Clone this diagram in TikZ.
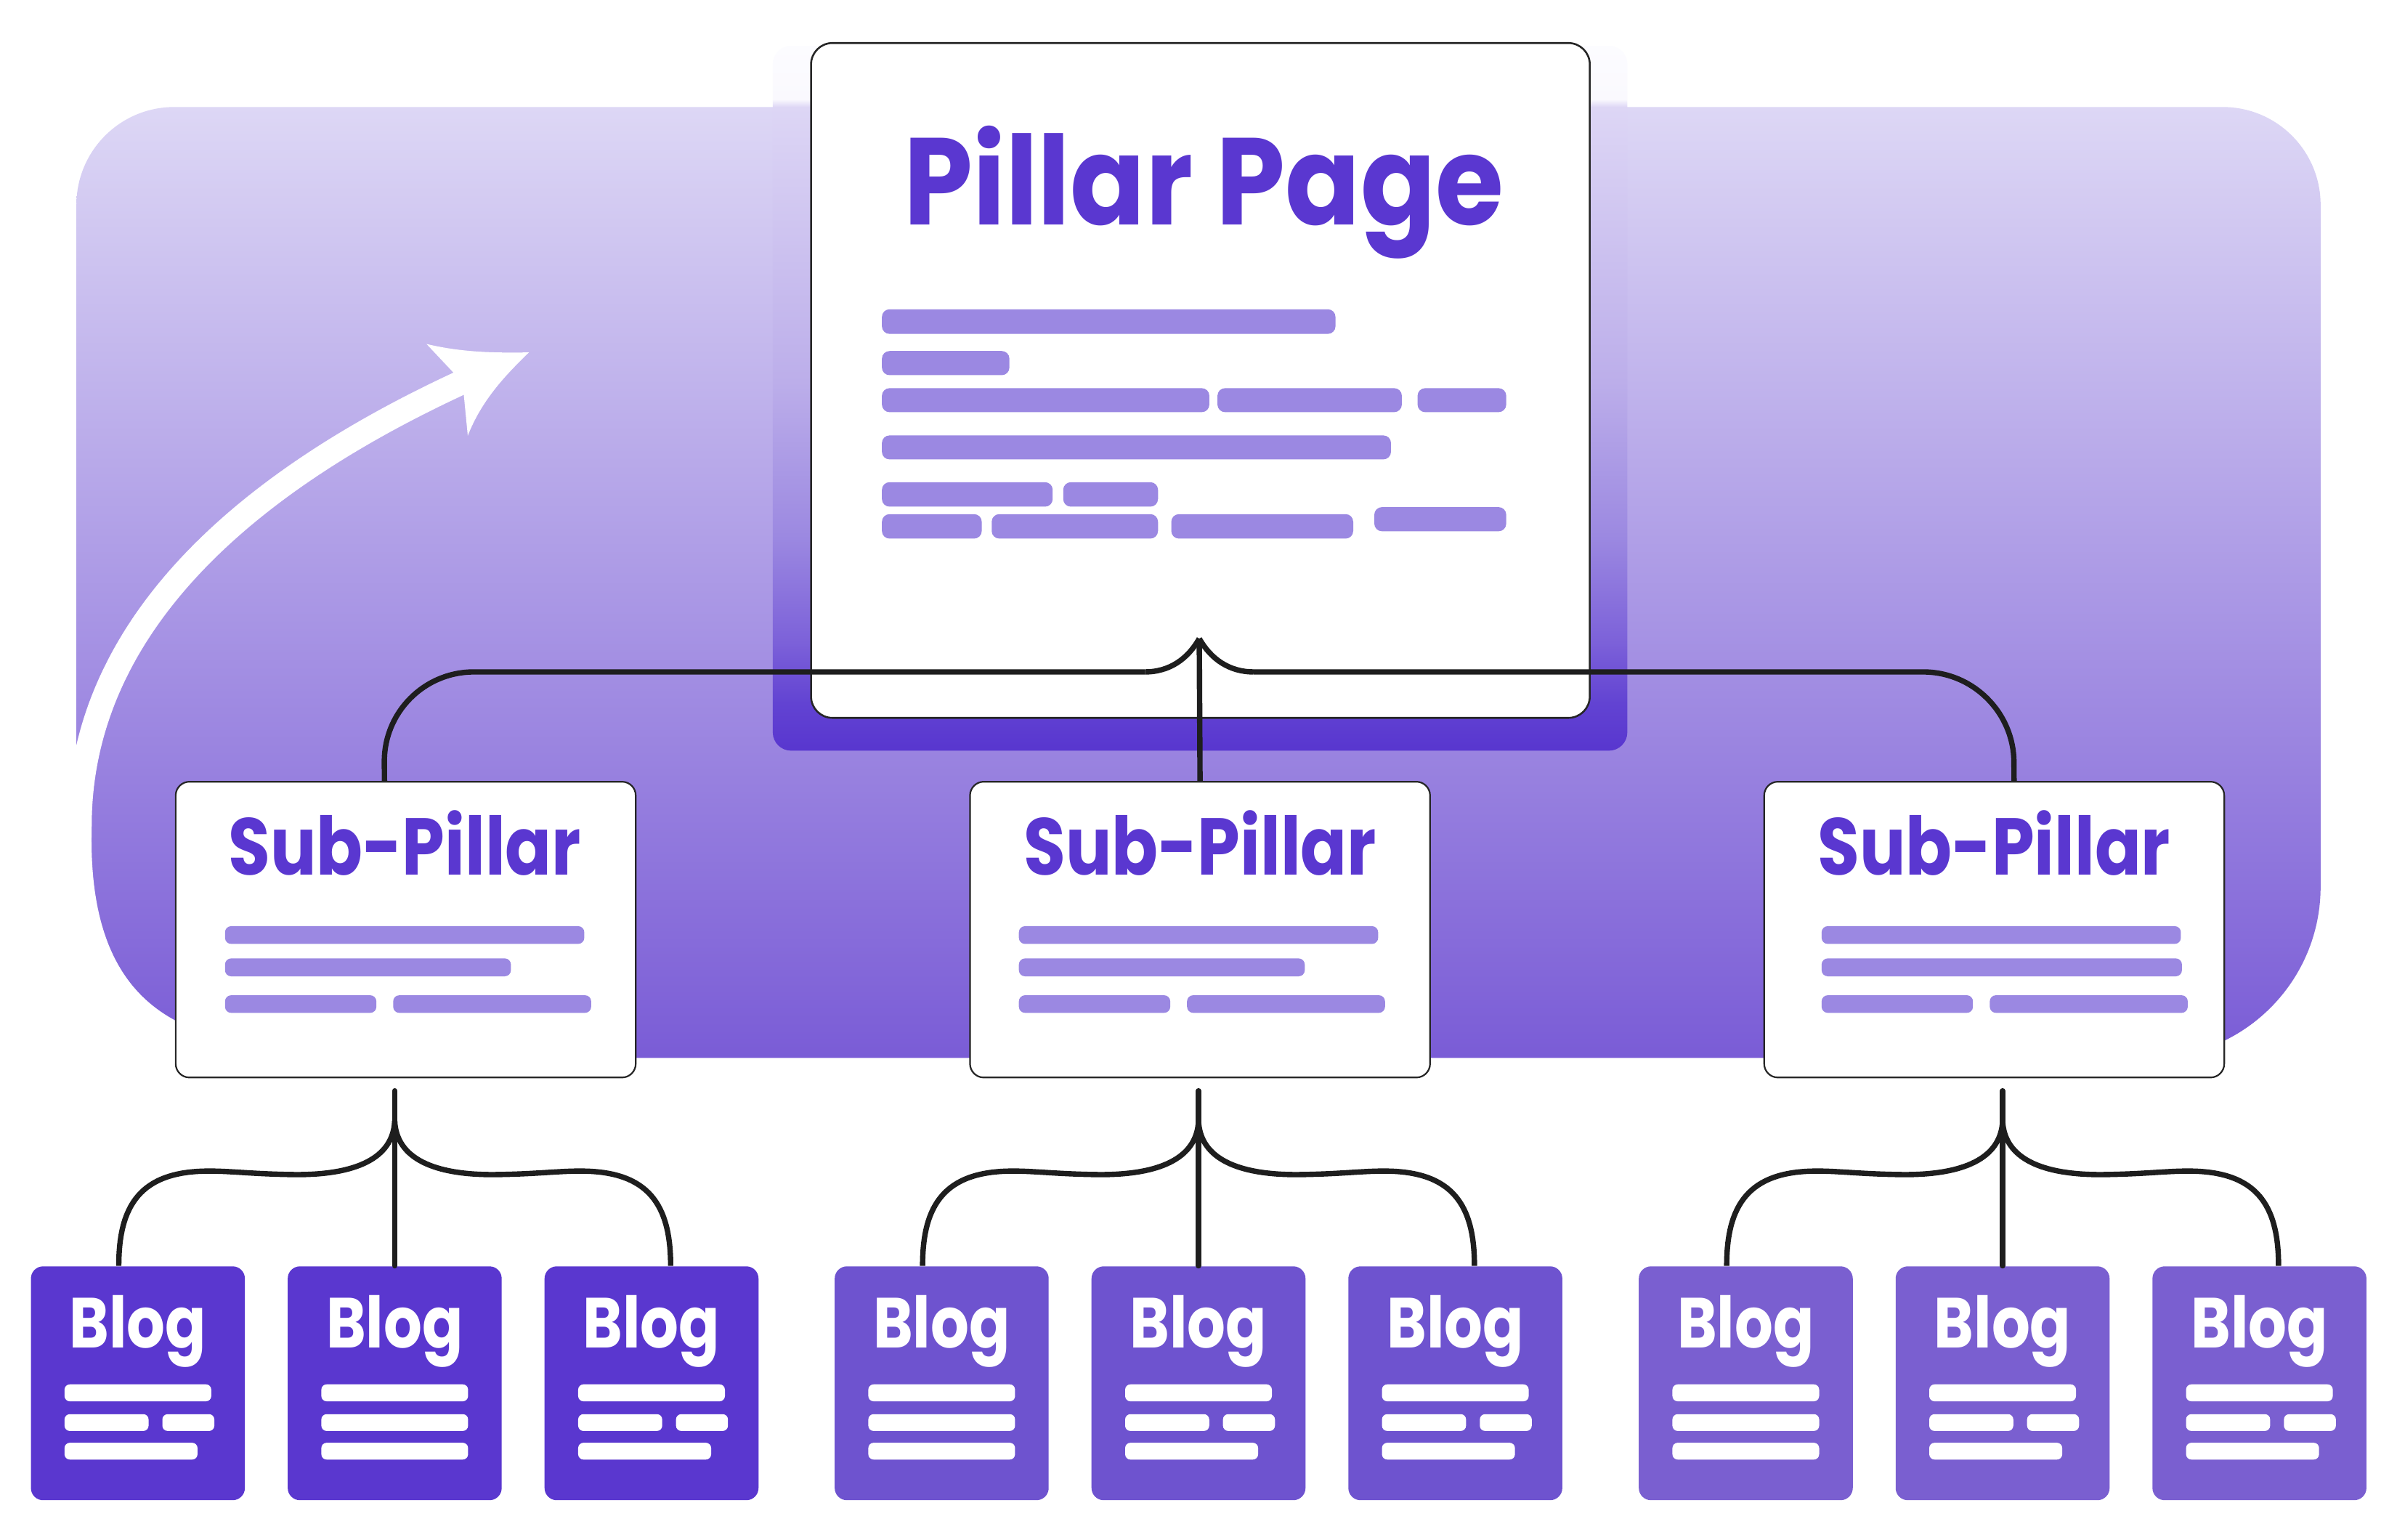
\documentclass[tikz,border=0pt]{standalone}
\usepackage{fontspec}
\setmainfont{Poppins}
\usepackage{graphicx}
\usetikzlibrary{calc}
\definecolor{bgtop}{HTML}{DDD7F5}
\definecolor{bgbot}{HTML}{7A5CD6}
\definecolor{barc}{HTML}{9B88E2}
\definecolor{ink}{HTML}{5A37D0}
\definecolor{connc}{HTML}{1E1E1E}
\definecolor{blogA}{HTML}{5A37CF}
\definecolor{blogB}{HTML}{6E53CF}
\definecolor{blogC}{HTML}{7A5FD0}
\definecolor{sh0}{HTML}{5836CF}
\definecolor{sh1}{HTML}{6243D2}
\definecolor{sh2}{HTML}{7C61D9}
\definecolor{sh3}{HTML}{9C89E1}
\definecolor{sh4}{HTML}{BCAEEA}
\definecolor{sh5}{HTML}{DDD6F5}
\definecolor{sh6}{HTML}{FAF9FE}
\definecolor{sh7}{HTML}{FCFCFF}
\pgfdeclareverticalshading{shadowsh}{100bp}{color(0bp)=(sh0); color(25bp)=(sh0); color(28.36bp)=(sh1); color(32.7bp)=(sh2); color(40.29bp)=(sh3); color(51.14bp)=(sh4); color(70.66bp)=(sh5); color(71.2bp)=(sh6); color(75bp)=(sh7); color(100bp)=(sh7)}

\tikzset{
  conn/.style={draw=connc, line width=2pt},
  pillarsty/.style={fill=white, draw=black!85, line width=0.7pt, inner sep=0pt,
    minimum width=10.19cm, minimum height=8.83cm, rounded corners=0.28cm},
  substy/.style={fill=white, draw=black!85, line width=0.6pt, inner sep=0pt,
    minimum width=6.02cm, minimum height=3.87cm, rounded corners=0.18cm},
  blogsty/.style={inner sep=0pt, minimum width=2.8cm, minimum height=3.06cm, rounded corners=0.16cm},
  titletxt/.style={anchor=base, inner sep=0pt, text=ink, font=\fontsize{46}{46}\selectfont\bfseries},
  subtxt/.style={anchor=base, inner sep=0pt, text=ink, font=\fontsize{30}{30}\selectfont\bfseries},
  blogtxt/.style={anchor=base, inner sep=0pt, text=white, font=\fontsize{26.4}{26.4}\selectfont\bfseries}
}

\newcommand{\pbar}[4]{\fill[barc, rounded corners=0.1cm] (#1,#3) rectangle (#2,#4);}
\newcommand{\sbar}[4]{\fill[barc, rounded corners=0.08cm] (#1,#3) rectangle (#2,#4);}
\newcommand{\wbar}[4]{\fill[white, rounded corners=0.07cm] (#1,#3) rectangle (#2,#4);}

\newcommand{\blogbox}[4]{%
  \node[blogsty, fill=#3] (#1) at (#2,904.8) {};
  \node[blogtxt] (#1t) at (#2,881.4) {\resizebox{51pt}{\height}{Blog}};
  \pgfmathsetmacro{\bx}{#2-70}
  \wbar{\bx+22}{\bx+118}{905.5}{916.6}
  \ifnum#4=1
    \wbar{\bx+22}{\bx+77}{925}{936}
    \wbar{\bx+86}{\bx+120}{925}{936}
    \wbar{\bx+22}{\bx+109}{943.7}{954.7}
  \else
    \wbar{\bx+22}{\bx+118}{925}{936}
    \wbar{\bx+22}{\bx+118}{943.7}{954.7}
  \fi
}

\newcommand{\subbox}[5]{%
  \node[substy, anchor=north west] (#1) at (#2,510.8) {};
  \node[subtxt] (#1t) at (#3,572.3) {\resizebox{131.4pt}{\height}{Sub-Pillar}};
  \pgfmathsetmacro{\bx}{#2+#4}
  \sbar{\bx}{\bx+235}{605.8}{617.4}
  \ifnum#5=1
    \sbar{\bx}{\bx+187}{626.9}{638.6}
  \else
    \sbar{\bx}{\bx+235.7}{626.9}{638.6}
  \fi
  \sbar{\bx}{\bx+99}{651}{662.5}
  \sbar{\bx+110}{\bx+239.5}{651}{662.5}
}

\newcommand{\grpconn}[5]{%
  \coordinate (#2s) at (#1,713.5);
  \coordinate (#2b) at (#1,733.3);
  \draw[conn, line cap=round] (#2s) -- (#4.north);
  \draw[conn] (#2b) .. controls ({#1-1.2},758) and ({#1-26},768.5) .. ({#1-65},768.3)
     .. controls ({#1-93},768) and ({#1-108},765.8) .. ({#1-123},766)
     .. controls ({#1-166},766.5) and ({#1-180.5},788) .. ([xshift=-0.25cm]#3.north);
  \draw[conn] (#2b) .. controls ({#1+1.2},758) and ({#1+26},768.5) .. ({#1+65},768.3)
     .. controls ({#1+93},768) and ({#1+108},765.8) .. ({#1+123},766)
     .. controls ({#1+166},766.5) and ({#1+180.5},788) .. ([xshift=0.25cm]#5.north);
}

\begin{document}
\begin{tikzpicture}[x=0.02cm, y=-0.02cm]
\useasboundingbox (0,0) rectangle (1568,1007.3);
\fill[white] (0,0) rectangle (1568,1007.3);

% background panel
\shade[top color=bgtop, bottom color=bgbot]
  (50,134) .. controls (50,98.65) and (78.65,70) .. (114,70)
  -- (1454,70) .. controls (1489.35,70) and (1518,98.65) .. (1518,134)
  -- (1518,580) .. controls (1518,641.86) and (1467.86,692) .. (1406,692)
  -- (162,692) .. controls (100.14,692) and (50,641.86) .. (50,580) -- cycle;

% white arrow
\draw[white, line width=0.32cm] (125,681) .. controls (70,660) and (50,610) .. (52,540)
   .. controls (52,430) and (130,330) .. (300,251) -- (306,248.2);
\fill[white] (346,230.5) .. controls (320,231) and (300,230) .. (279,225)
   -- (296.6,243.7) -- (303.4,258.3) -- (306,285)
   .. controls (315,262) and (330,246) .. (346,230.5) -- cycle;

% pillar shadow
\shade[shading=shadowsh, rounded corners=0.24cm] (505.5,30) rectangle (1064.5,491);

% pillar page
\node[pillarsty] (pillar) at (785.25,248.85) {};
\node[titletxt] (ptitle) at (787.4,146.9) {\resizebox{223.4pt}{\height}{Pillar Page}};
\pbar{576.9}{873.6}{202.3}{218.4}
\pbar{576.9}{660.3}{229.6}{245.4}
\pbar{576.9}{791.1}{253.9}{269.6}
\pbar{796.4}{917}{253.9}{269.6}
\pbar{927.3}{985.3}{253.9}{269.6}
\pbar{576.9}{909.9}{284.8}{300.5}
\pbar{576.9}{688.6}{315.4}{331.4}
\pbar{695.5}{757.5}{315.4}{331.4}
\pbar{576.9}{642.2}{336.3}{352.3}
\pbar{648.7}{757.5}{336.3}{352.3}
\pbar{766.2}{885.2}{336.3}{352.3}
\pbar{899}{985.3}{331.7}{347.5}

% sub-pillars
\subbox{sub1}{114.4}{264.75}{32.8}{1}
\subbox{sub2}{634}{785}{32.5}{1}
\subbox{sub3}{1153.5}{1304.4}{38.1}{2}

% connectors from pillar
\coordinate (peak) at (784.5,417.7);
\draw[conn] (peak) .. controls (777,431) and (765,439.5) .. (749,439.5);
\draw[conn] (peak) .. controls (792,431) and (804,439.5) .. (820,439.5);
\draw[conn, rounded corners=1.18cm] (749,439.5) -- (251,439.5) -- ([xshift=-0.278cm]sub1.north);
\draw[conn, rounded corners=1.18cm] (820,439.5) -- (1317,439.5) -- ([xshift=0.26cm]sub3.north);
\draw[conn] (peak) -- (sub2.north);

% blogs
\blogbox{b1}{90.2}{blogA}{1}
\blogbox{b2}{258.2}{blogA}{2}
\blogbox{b3}{426.2}{blogA}{1}
\blogbox{b4}{616}{blogB}{2}
\blogbox{b5}{784}{blogB}{1}
\blogbox{b6}{952}{blogB}{1}
\blogbox{b7}{1142}{blogC}{2}
\blogbox{b8}{1310}{blogC}{1}
\blogbox{b9}{1478}{blogC}{1}

\grpconn{258.2}{sub1}{b1}{b2}{b3}
\grpconn{784}{sub2}{b4}{b5}{b6}
\grpconn{1310}{sub3}{b7}{b8}{b9}
\end{tikzpicture}
\end{document}
